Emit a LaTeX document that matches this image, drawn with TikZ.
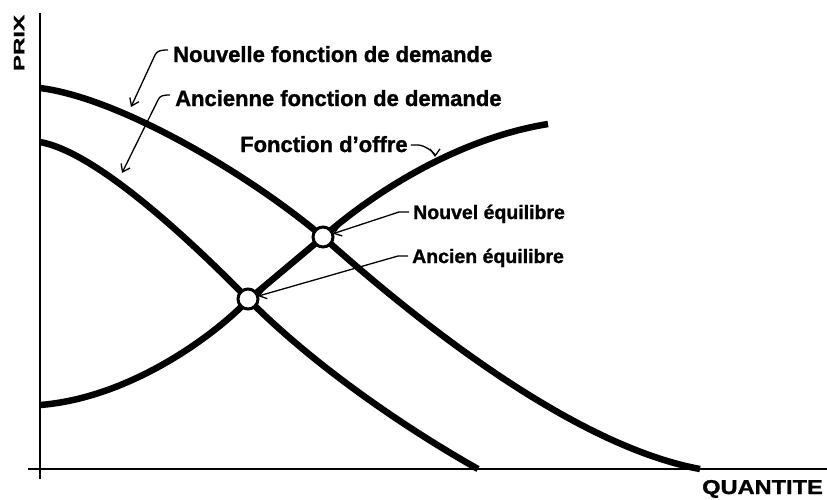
\documentclass[tikz,border=0pt]{standalone}
\usepackage{fontspec}
\setmainfont{Liberation Sans}[BoldFeatures={FakeBold=1.2}]
\usetikzlibrary{arrows.meta}
\begin{document}
\begin{tikzpicture}[x=1pt,y=-1pt,
  curve/.style={line width=6.5pt, line cap=butt, line join=round},
  axis/.style={line width=2.5pt},
  lead/.style={line width=1.3pt, -{Straight Barb[length=7pt,width=10pt]}},
  lbl/.style={font=\fontsize{22}{26}\selectfont\bfseries, anchor=base west, inner sep=0pt},
  lbls/.style={font=\fontsize{19.5}{23}\selectfont\bfseries, anchor=base west, inner sep=0pt},
  eq/.style={circle, draw, fill=white, line width=3pt, minimum size=20pt, inner sep=0pt}]
\useasboundingbox (0,0) rectangle (827,499);
% axes
\draw[axis] (40,13) -- (40,479);
\draw[axis] (28,469) -- (827,469);
% curves
\draw[curve] (40,88) .. controls (120,98) and (250,175) .. (323,237)
  .. controls (410,315) and (570,445) .. (700,469);
\draw[curve] (40,142) .. controls (95,152) and (185,235) .. (248,299)
  .. controls (310,362) and (400,425) .. (478,469);
\draw[curve] (40,405) .. controls (130,398) and (215,335) .. (248,300)
  .. controls (273,279) and (298,258) .. (323,237)
  .. controls (365,200) and (450,140) .. (548,124);
% equilibria
\node[eq] (oc) at (248,299) {};
\node[eq] (nc) at (323,237) {};
% points on curves
\coordinate (nd) at (131,107);
\coordinate (od) at (122,173);
\coordinate (sc) at (435,157);
% labels
\node[lbl] (nl1) at (173,62) {Nouvelle fonction de demande};
\node[lbl] (ol1) at (175,106) {Ancienne fonction de demande};
\node[lbl] (sl) at (240,152) {Fonction d'offre};
\node[lbls] (nl) at (413,219) {Nouvel équilibre};
\node[lbls] (ol) at (412,263) {Ancien équilibre};
\node[font=\fontsize{20}{24}\selectfont\bfseries, anchor=base west, inner sep=0pt] (qx) at (702,494) {\scalebox{1.18}[1]{QUANTITE}};
\node[font=\fontsize{15}{18}\selectfont\bfseries, rotate=90, inner sep=0pt] (py) at (19,43) {\scalebox{1.6}[1]{PRIX}};
% leaders
\draw[lead] ([shift={(-5,-12)}]nl1.base west) .. controls ++(-8,0) and ++(2,-4) .. ++(-13,5) -- (nd);
\draw[lead] ([shift={(-5,-11)}]ol1.base west) .. controls ++(-8,0) and ++(2,-4) .. ++(-12,5) -- (od);
\draw[lead] ([shift={(3,-7)}]sl.base east) -- ++(7,0) .. controls ++(7,0) and ++(0,-4) .. (sc);
\draw[lead, shorten >=-1pt] ([shift={(-4,-7)}]nl.base west) -- ++(-10,0) -- (nc);
\draw[lead, shorten >=-1pt] ([shift={(-4,-7)}]ol.base west) -- ++(-10,0) -- (oc);
\end{tikzpicture}
\end{document}
